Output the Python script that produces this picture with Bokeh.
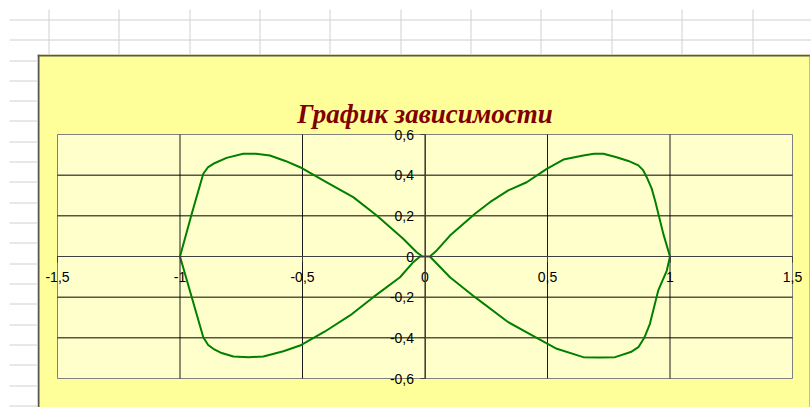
import numpy as np
from bokeh.plotting import figure
from bokeh.models import Range1d, FixedTicker, Label, Span
from bokeh.layouts import column, row
from bokeh.embed import file_html
from bokeh.resources import INLINE

# ---------------- data ----------------
x_upper_right = [1.000, 0.973, 0.939, 0.925, 0.905, 0.890, 0.871, 0.830, 0.782, 0.728, 0.690, 0.646, 0.565, 0.497, 0.415, 0.340, 0.265, 0.204, 0.102, 0.048, 0.020, 0.000]
y_upper_right = [0.000, 0.110, 0.275, 0.335, 0.390, 0.425, 0.448, 0.470, 0.488, 0.505, 0.505, 0.497, 0.477, 0.431, 0.365, 0.325, 0.267, 0.210, 0.103, 0.030, 0.000, 0.000]

x_lower_left = [-0.020, -0.048, -0.102, -0.211, -0.306, -0.410, -0.510, -0.578, -0.660, -0.720, -0.782, -0.830, -0.864, -0.885, -0.905, -0.952, -1.000]
y_lower_left = [0.000, -0.028, -0.102, -0.200, -0.290, -0.370, -0.438, -0.466, -0.492, -0.495, -0.492, -0.475, -0.454, -0.435, -0.397, -0.200, 0.000]

x_upper_left = [-0.952, -0.905, -0.885, -0.864, -0.810, -0.742, -0.690, -0.633, -0.570, -0.510, -0.401, -0.293, -0.197, -0.089, -0.034, -0.010, 0.000]
y_upper_left = [0.210, 0.407, 0.440, 0.456, 0.485, 0.505, 0.505, 0.497, 0.470, 0.439, 0.365, 0.292, 0.202, 0.087, 0.021, 0.000, 0.000]

x_lower_right = [0.020, 0.102, 0.204, 0.340, 0.456, 0.538, 0.646, 0.710, 0.776, 0.840, 0.871, 0.895, 0.918, 0.952, 0.987, 1.000]
y_lower_right = [0.000, -0.102, -0.200, -0.323, -0.400, -0.454, -0.495, -0.497, -0.495, -0.470, -0.446, -0.400, -0.331, -0.167, -0.069, 0.000]

x_ticks = [-1.5, -1.0, -0.5, 0.0, 0.5, 1.0, 1.5]
x_tick_labels = ["-1,5", "-1", "-0,5", "0", "0,5", "1", "1,5"]
y_ticks = [-0.6, -0.4, -0.2, 0.0, 0.2, 0.4, 0.6]
y_tick_labels = ["-0,6", "-0,4", "-0,2", "0", "0,2", "0,4", "0,6"]

title_text = "График зависимости"

# ---------------- layout constants ----------------
X_MIN, X_MAX = x_ticks[0], x_ticks[-1]
Y_MIN, Y_MAX = y_ticks[0], y_ticks[-1]

W_ALL = 811
TOP_H = 54
LEFT_W = 37
W_MAIN, H_MAIN = 773, 353
FRAME_LEFT, FRAME_RIGHT, FRAME_TOP, FRAME_BOTTOM = 20, 18, 80, 29

kx = (W_MAIN - FRAME_LEFT - FRAME_RIGHT) / (X_MAX - X_MIN)
ky = (H_MAIN - FRAME_TOP - FRAME_BOTTOM) / (Y_MAX - Y_MIN)

SHEET_LINE = "#d0d0d0"
COL_STEP = 70.37
ROW_STEP = 20.33


def strip(w, h):
    s = figure(width=w, height=h, x_range=Range1d(0, w), y_range=Range1d(h, 0),
               x_axis_type=None, y_axis_type=None, output_backend="svg",
               toolbar_location=None, min_border=0, outline_line_color=None,
               background_fill_color="white", border_fill_color="white")
    s.grid.visible = False
    return s


# top spreadsheet strip (page y 0..54)
top = strip(W_ALL, TOP_H)
col_x = np.floor(48.3 + COL_STEP * np.arange(11)) + 0.5
top.segment(x0=col_x, y0=9, x1=col_x, y1=TOP_H, line_color=SHEET_LINE, line_width=1)
row_y_top = np.floor(19 + ROW_STEP * np.arange(2)) + 0.5
top.segment(x0=9, y0=row_y_top, x1=W_ALL, y1=row_y_top, line_color=SHEET_LINE, line_width=1)

# left spreadsheet strip (page x 0..37)
left = strip(LEFT_W, H_MAIN)
row_y_left = np.floor(6 + ROW_STEP * np.arange(18)) + 0.5
left.segment(x0=9, y0=row_y_left, x1=LEFT_W, y1=row_y_left, line_color=SHEET_LINE, line_width=1)

# main chart
xr = Range1d(X_MIN - FRAME_LEFT / kx, X_MAX + FRAME_RIGHT / kx)
yr = Range1d(Y_MIN - FRAME_BOTTOM / ky, Y_MAX + FRAME_TOP / ky)
p = figure(width=W_MAIN, height=H_MAIN, x_range=xr, y_range=yr,
           output_backend="svg", toolbar_location=None, min_border=0,
           background_fill_color="#FFFF99", border_fill_color="#FFFF99",
           outline_line_color=None)
p.grid.visible = False

# plot area
p.quad(left=X_MIN, right=X_MAX, bottom=Y_MIN, top=Y_MAX,
       fill_color="#FFFFCC", line_color="#808080", line_width=1)

# gridlines
xg = x_ticks[1:-1]
p.segment(x0=xg, y0=Y_MIN, x1=xg, y1=Y_MAX, line_color="#1a1a1a", line_width=1)
yg = y_ticks[1:-1]
p.segment(x0=X_MIN, y0=yg, x1=X_MAX, y1=yg, line_color="#000000", line_width=1)

# curve
xs = x_upper_right + x_lower_left + x_upper_left + x_lower_right
ys = y_upper_right + y_lower_left + y_upper_left + y_lower_right
p.line(xs, ys, line_color="#008000", line_width=2, line_join="round")

# axes crossing at 0
for ax, ticks, labels, bounds in ((p.xaxis[0], x_ticks, x_tick_labels, (X_MIN, X_MAX)),
                                  (p.yaxis[0], y_ticks, y_tick_labels, (Y_MIN, Y_MAX))):
    ax.fixed_location = 0
    ax.bounds = bounds
    ax.ticker = FixedTicker(ticks=ticks)
    ax.major_label_overrides = {t: l for t, l in zip(ticks, labels)}
    ax.minor_tick_line_color = None
    ax.major_tick_in = 0
    ax.axis_line_color = "#404040"
    ax.major_tick_line_color = "#404040"
    ax.major_label_text_font = "Liberation Sans"
    ax.major_label_text_font_size = "14px"
    ax.major_label_text_color = "#000000"
p.xaxis[0].major_tick_out = 6
p.xaxis[0].major_label_standoff = 9
p.yaxis[0].major_tick_out = 5
p.yaxis[0].major_label_standoff = 6

# title
p.add_layout(Label(x=0, y=0.703, text=title_text, text_align="center",
                   text_baseline="alphabetic", text_font="Liberation Serif",
                   text_font_style="bold italic", text_font_size="27px",
                   text_color="#800000"))

# chart-area border
p.add_layout(Span(location=xr.start + 1 / kx, dimension="height", line_color="#555555", line_width=2))
p.add_layout(Span(location=yr.end - 1 / ky, dimension="width", line_color="#555555", line_width=2))
p.add_layout(Span(location=xr.end - 0.5 / kx, dimension="height", line_color="#808080", line_width=1))

layout = column(top, row(left, p, spacing=0), spacing=0)

open("out.html", "w").write(file_html(layout, INLINE))
